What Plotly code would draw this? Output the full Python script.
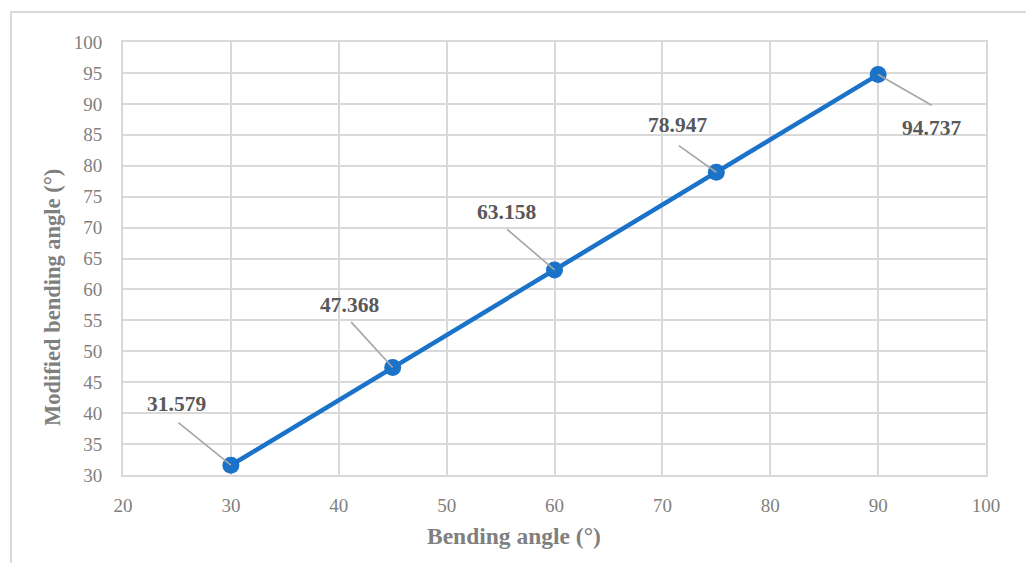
import plotly.graph_objects as go

bending_angle = [30, 45, 60, 75, 90]
modified_angle = [31.579, 47.368, 63.158, 78.947, 94.737]
label_text = ["31.579", "47.368", "63.158", "78.947", "94.737"]
x_ticks = [20, 30, 40, 50, 60, 70, 80, 90, 100]
y_ticks = [30, 35, 40, 45, 50, 55, 60, 65, 70, 75, 80, 85, 90, 95, 100]

# label offsets (pixels): text center shift and leader-line start
text_shift = [(-54, 61), (-43, 63), (-48, 58), (-39, 47), (53, -53)]
line_start = [(-53, -43), (-42, -46), (-48, -41), (-38, -27), (54, 31)]

FONT = "Liberation Serif"
BLUE = "#1b72c9"
GRID = "#d9d9d9"

fig = go.Figure()
fig.add_trace(go.Scatter(
    x=bending_angle, y=modified_angle, mode="lines+markers",
    line=dict(color=BLUE, width=4.5),
    marker=dict(color=BLUE, size=17),
    showlegend=False, hoverinfo="skip",
))

annotations = []
for xv, yv, t, ts, ls in zip(bending_angle, modified_angle, label_text, text_shift, line_start):
    annotations.append(dict(
        x=xv, y=yv, xref="x", yref="y", text=" ", font=dict(size=1),
        showarrow=True, arrowhead=0, arrowwidth=1.6, arrowcolor="#a6a6a6",
        ax=ls[0], ay=ls[1], standoff=0, borderpad=0,
    ))
    annotations.append(dict(
        x=xv, y=yv, xref="x", yref="y", text="<b>%s</b>" % t,
        showarrow=False, xshift=ts[0], yshift=ts[1],
        font=dict(family=FONT, size=21.5, color="#595959"),
        xanchor="center", yanchor="middle",
    ))

annotations.append(dict(
    text="<b>Bending angle (°)</b>", xref="paper", yref="paper",
    x=(514 - 123) / (985.7 - 123), y=(475 - 536) / 433,
    showarrow=False, xanchor="center", yanchor="middle",
    font=dict(family=FONT, size=23.5, color="#7f7f7f"),
))
annotations.append(dict(
    text="<b>Modified bending angle (°)</b>", xref="paper", yref="paper",
    x=(52 - 123) / (985.7 - 123), y=(475 - 297) / 433, textangle=-90,
    showarrow=False, xanchor="center", yanchor="middle",
    font=dict(family=FONT, size=22.5, color="#7f7f7f"),
))

fig.update_layout(
    width=1026, height=563,
    margin=dict(l=123, r=40, t=42, b=88),
    paper_bgcolor="white", plot_bgcolor="white",
    font=dict(family=FONT, color="#7f7f7f"),
    annotations=annotations,
    shapes=[dict(type="rect", xref="paper", yref="paper",
                 x0=(11 - 123) / (985.7 - 123), x1=1.2,
                 y0=-0.5, y1=(475 - 12) / 433,
                 line=dict(color=GRID, width=2), layer="below")],
)
fig.update_xaxes(
    range=[20, 100], tickvals=x_ticks, showgrid=True, gridcolor=GRID, gridwidth=2,
    showline=True, linecolor=GRID, linewidth=2, mirror=True, zeroline=False,
    ticks="", ticklabelstandoff=12,
    tickfont=dict(family=FONT, size=19, color="#7f7f7f"),
)
fig.update_yaxes(
    range=[30, 100], tickvals=y_ticks, showgrid=True, gridcolor=GRID, gridwidth=2,
    showline=True, linecolor=GRID, linewidth=2, mirror=True, zeroline=False,
    ticks="", ticklabelstandoff=15,
    tickfont=dict(family=FONT, size=19, color="#7f7f7f"),
)

fig.write_html("out.html")
